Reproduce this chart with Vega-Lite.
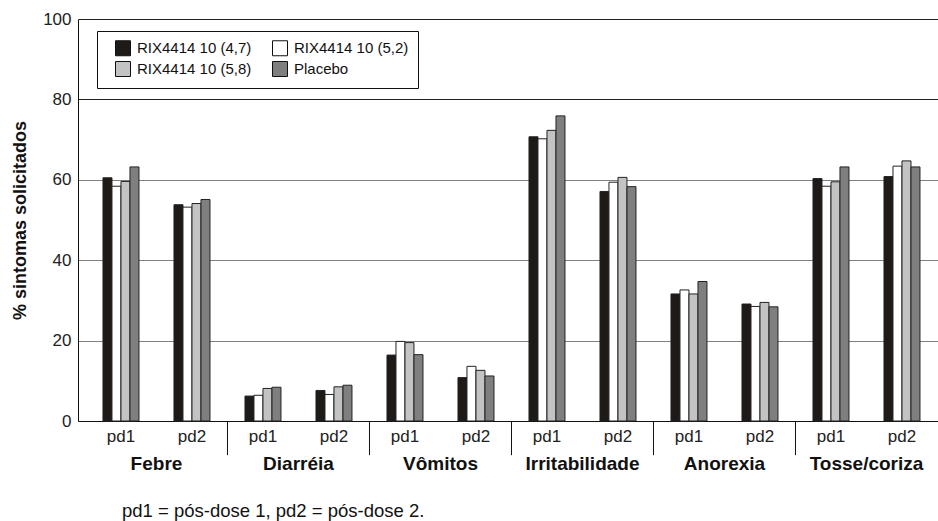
{
  "$schema": "https://vega.github.io/schema/vega-lite/v6.json",
  "autosize": {"type": "pad"},
  "padding": {"left": 11, "top": 10, "right": 0, "bottom": 0},
  "background": "white",
  "width": 860,
  "height": 402,
  "config": {
    "view": {"stroke": null},
    "font": "Liberation Sans",
    "axisX": {
      "title": null,
      "labelAngle": 0,
      "labelFont": "Liberation Sans",
      "labelFontSize": 17,
      "labelColor": "#222",
      "labelPadding": 7,
      "ticks": false,
      "domainColor": "#111",
      "domainWidth": 1,
      "grid": false
    },
    "axisY": {
      "titleFont": "Liberation Sans",
      "titleFontSize": 18,
      "titleFontWeight": "bold",
      "titleColor": "#111",
      "titlePadding": 13,
      "labelFont": "Liberation Sans",
      "labelFontSize": 17,
      "labelColor": "#222",
      "labelPadding": 7,
      "ticks": false,
      "domainColor": "#111",
      "gridWidth": 1
    }
  },
  "data": {
    "values": [
      {"cat": "Febre", "per": "pd1", "series": "RIX4414 10 (4,7)", "value": 60.5},
      {"cat": "Febre", "per": "pd1", "series": "RIX4414 10 (5,2)", "value": 58.4},
      {"cat": "Febre", "per": "pd1", "series": "RIX4414 10 (5,8)", "value": 59.6},
      {"cat": "Febre", "per": "pd1", "series": "Placebo", "value": 63.2},
      {"cat": "Febre", "per": "pd2", "series": "RIX4414 10 (4,7)", "value": 53.8},
      {"cat": "Febre", "per": "pd2", "series": "RIX4414 10 (5,2)", "value": 53.2},
      {"cat": "Febre", "per": "pd2", "series": "RIX4414 10 (5,8)", "value": 54.1},
      {"cat": "Febre", "per": "pd2", "series": "Placebo", "value": 55.1},
      {"cat": "Diarréia", "per": "pd1", "series": "RIX4414 10 (4,7)", "value": 6.2},
      {"cat": "Diarréia", "per": "pd1", "series": "RIX4414 10 (5,2)", "value": 6.4},
      {"cat": "Diarréia", "per": "pd1", "series": "RIX4414 10 (5,8)", "value": 8.1},
      {"cat": "Diarréia", "per": "pd1", "series": "Placebo", "value": 8.4},
      {"cat": "Diarréia", "per": "pd2", "series": "RIX4414 10 (4,7)", "value": 7.6},
      {"cat": "Diarréia", "per": "pd2", "series": "RIX4414 10 (5,2)", "value": 6.6},
      {"cat": "Diarréia", "per": "pd2", "series": "RIX4414 10 (5,8)", "value": 8.5},
      {"cat": "Diarréia", "per": "pd2", "series": "Placebo", "value": 8.9},
      {"cat": "Vômitos", "per": "pd1", "series": "RIX4414 10 (4,7)", "value": 16.4},
      {"cat": "Vômitos", "per": "pd1", "series": "RIX4414 10 (5,2)", "value": 19.8},
      {"cat": "Vômitos", "per": "pd1", "series": "RIX4414 10 (5,8)", "value": 19.5},
      {"cat": "Vômitos", "per": "pd1", "series": "Placebo", "value": 16.5},
      {"cat": "Vômitos", "per": "pd2", "series": "RIX4414 10 (4,7)", "value": 10.8},
      {"cat": "Vômitos", "per": "pd2", "series": "RIX4414 10 (5,2)", "value": 13.6},
      {"cat": "Vômitos", "per": "pd2", "series": "RIX4414 10 (5,8)", "value": 12.6},
      {"cat": "Vômitos", "per": "pd2", "series": "Placebo", "value": 11.2},
      {"cat": "Irritabilidade", "per": "pd1", "series": "RIX4414 10 (4,7)", "value": 70.7},
      {"cat": "Irritabilidade", "per": "pd1", "series": "RIX4414 10 (5,2)", "value": 70.2},
      {"cat": "Irritabilidade", "per": "pd1", "series": "RIX4414 10 (5,8)", "value": 72.3},
      {"cat": "Irritabilidade", "per": "pd1", "series": "Placebo", "value": 75.9},
      {"cat": "Irritabilidade", "per": "pd2", "series": "RIX4414 10 (4,7)", "value": 57.1},
      {"cat": "Irritabilidade", "per": "pd2", "series": "RIX4414 10 (5,2)", "value": 59.4},
      {"cat": "Irritabilidade", "per": "pd2", "series": "RIX4414 10 (5,8)", "value": 60.6},
      {"cat": "Irritabilidade", "per": "pd2", "series": "Placebo", "value": 58.3},
      {"cat": "Anorexia", "per": "pd1", "series": "RIX4414 10 (4,7)", "value": 31.6},
      {"cat": "Anorexia", "per": "pd1", "series": "RIX4414 10 (5,2)", "value": 32.6},
      {"cat": "Anorexia", "per": "pd1", "series": "RIX4414 10 (5,8)", "value": 31.6},
      {"cat": "Anorexia", "per": "pd1", "series": "Placebo", "value": 34.7},
      {"cat": "Anorexia", "per": "pd2", "series": "RIX4414 10 (4,7)", "value": 29.1},
      {"cat": "Anorexia", "per": "pd2", "series": "RIX4414 10 (5,2)", "value": 28.5},
      {"cat": "Anorexia", "per": "pd2", "series": "RIX4414 10 (5,8)", "value": 29.5},
      {"cat": "Anorexia", "per": "pd2", "series": "Placebo", "value": 28.4},
      {"cat": "Tosse/coriza", "per": "pd1", "series": "RIX4414 10 (4,7)", "value": 60.3},
      {"cat": "Tosse/coriza", "per": "pd1", "series": "RIX4414 10 (5,2)", "value": 58.4},
      {"cat": "Tosse/coriza", "per": "pd1", "series": "RIX4414 10 (5,8)", "value": 59.5},
      {"cat": "Tosse/coriza", "per": "pd1", "series": "Placebo", "value": 63.2},
      {"cat": "Tosse/coriza", "per": "pd2", "series": "RIX4414 10 (4,7)", "value": 60.8},
      {"cat": "Tosse/coriza", "per": "pd2", "series": "RIX4414 10 (5,2)", "value": 63.4},
      {"cat": "Tosse/coriza", "per": "pd2", "series": "RIX4414 10 (5,8)", "value": 64.7},
      {"cat": "Tosse/coriza", "per": "pd2", "series": "Placebo", "value": 63.2}
    ]
  },
  "transform": [{"calculate": "datum.cat + '|' + datum.per", "as": "slot"}],
  "title": {
    "text": "pd1 = pós-dose 1, pd2 = pós-dose 2.",
    "orient": "bottom",
    "anchor": "start",
    "frame": "group",
    "dx": 44,
    "offset": 28,
    "font": "Liberation Sans",
    "fontSize": 18.5,
    "fontWeight": "normal",
    "color": "#111"
  },
  "layer": [
    {
      "mark": {"type": "bar", "stroke": "#222", "strokeWidth": 1},
      "encoding": {
        "x": {
          "field": "slot",
          "type": "nominal",
          "sort": ["Febre|pd1", "Febre|pd2", "Diarréia|pd1", "Diarréia|pd2", "Vômitos|pd1", "Vômitos|pd2", "Irritabilidade|pd1", "Irritabilidade|pd2", "Anorexia|pd1", "Anorexia|pd2", "Tosse/coriza|pd1", "Tosse/coriza|pd2"],
          "scale": {"paddingInner": 0.493, "paddingOuter": 0.3028, "align": 0.581},
          "axis": {"title": null, "labelExpr": "split(datum.label, '|')[1]"}
        },
        "xOffset": {
          "field": "series",
          "type": "nominal",
          "sort": ["RIX4414 10 (4,7)", "RIX4414 10 (5,2)", "RIX4414 10 (5,8)", "Placebo"],
          "scale": {"paddingInner": 0, "paddingOuter": 0}
        },
        "y": {
          "field": "value",
          "type": "quantitative",
          "scale": {"domain": [0, 100], "nice": false},
          "axis": {
            "title": "% sintomas solicitados",
            "values": [0, 20, 40, 60, 80, 100],
            "gridColor": {"condition": {"test": "datum.value >= 80", "value": "#222"}, "value": "#808080"}
          }
        },
        "color": {
          "field": "series",
          "type": "nominal",
          "sort": ["RIX4414 10 (4,7)", "RIX4414 10 (5,2)", "RIX4414 10 (5,8)", "Placebo"],
          "scale": {
            "domain": ["RIX4414 10 (4,7)", "RIX4414 10 (5,2)", "RIX4414 10 (5,8)", "Placebo"],
            "range": ["#1e1a17", "#ffffff", "#c3c3c3", "#7f7f7f"]
          },
          "legend": {
            "orient": "none",
            "legendX": 19,
            "legendY": 12,
            "direction": "horizontal",
            "columns": 2,
            "title": null,
            "symbolType": "square",
            "symbolSize": 225,
            "symbolStrokeColor": "#111",
            "symbolStrokeWidth": 1,
            "symbolOffset": 9,
            "labelFont": "Liberation Sans",
            "labelFontSize": 15,
            "labelColor": "#111",
            "labelOffset": 6,
            "labelLimit": 300,
            "columnPadding": 11,
            "rowPadding": 1,
            "padding": 9,
            "strokeColor": "#111",
            "fillColor": "white"
          }
        }
      }
    },
    {
      "transform": [{"filter": "datum.per === 'pd1' && datum.series === 'Placebo' && datum.cat !== 'Febre'"}],
      "mark": {"type": "rule", "color": "#111", "strokeWidth": 1},
      "encoding": {
        "x": {
          "field": "slot",
          "type": "nominal",
          "bandPosition": -0.486,
          "sort": ["Febre|pd1", "Febre|pd2", "Diarréia|pd1", "Diarréia|pd2", "Vômitos|pd1", "Vômitos|pd2", "Irritabilidade|pd1", "Irritabilidade|pd2", "Anorexia|pd1", "Anorexia|pd2", "Tosse/coriza|pd1", "Tosse/coriza|pd2"],
          "axis": {"title": null, "labelExpr": "split(datum.label, '|')[1]"}
        },
        "y": {
          "datum": 0,
          "type": "quantitative",
          "axis": {
            "title": "% sintomas solicitados",
            "values": [0, 20, 40, 60, 80, 100],
            "gridColor": {"condition": {"test": "datum.value >= 80", "value": "#222"}, "value": "#808080"}
          }
        },
        "y2": {"datum": -8.5}
      }
    },
    {
      "transform": [{"filter": "datum.per === 'pd1' && datum.series === 'Placebo'"}],
      "mark": {"type": "text", "font": "Liberation Sans", "fontSize": 19, "fontWeight": "bold", "color": "#111", "baseline": "middle", "align": "center"},
      "encoding": {
        "x": {
          "field": "slot",
          "type": "nominal",
          "bandPosition": 1.486,
          "sort": ["Febre|pd1", "Febre|pd2", "Diarréia|pd1", "Diarréia|pd2", "Vômitos|pd1", "Vômitos|pd2", "Irritabilidade|pd1", "Irritabilidade|pd2", "Anorexia|pd1", "Anorexia|pd2", "Tosse/coriza|pd1", "Tosse/coriza|pd2"],
          "axis": {"title": null, "labelExpr": "split(datum.label, '|')[1]"}
        },
        "y": {
          "datum": -10.7,
          "type": "quantitative",
          "axis": {
            "title": "% sintomas solicitados",
            "values": [0, 20, 40, 60, 80, 100],
            "gridColor": {"condition": {"test": "datum.value >= 80", "value": "#222"}, "value": "#808080"}
          }
        },
        "text": {"field": "cat"}
      }
    }
  ]
}
